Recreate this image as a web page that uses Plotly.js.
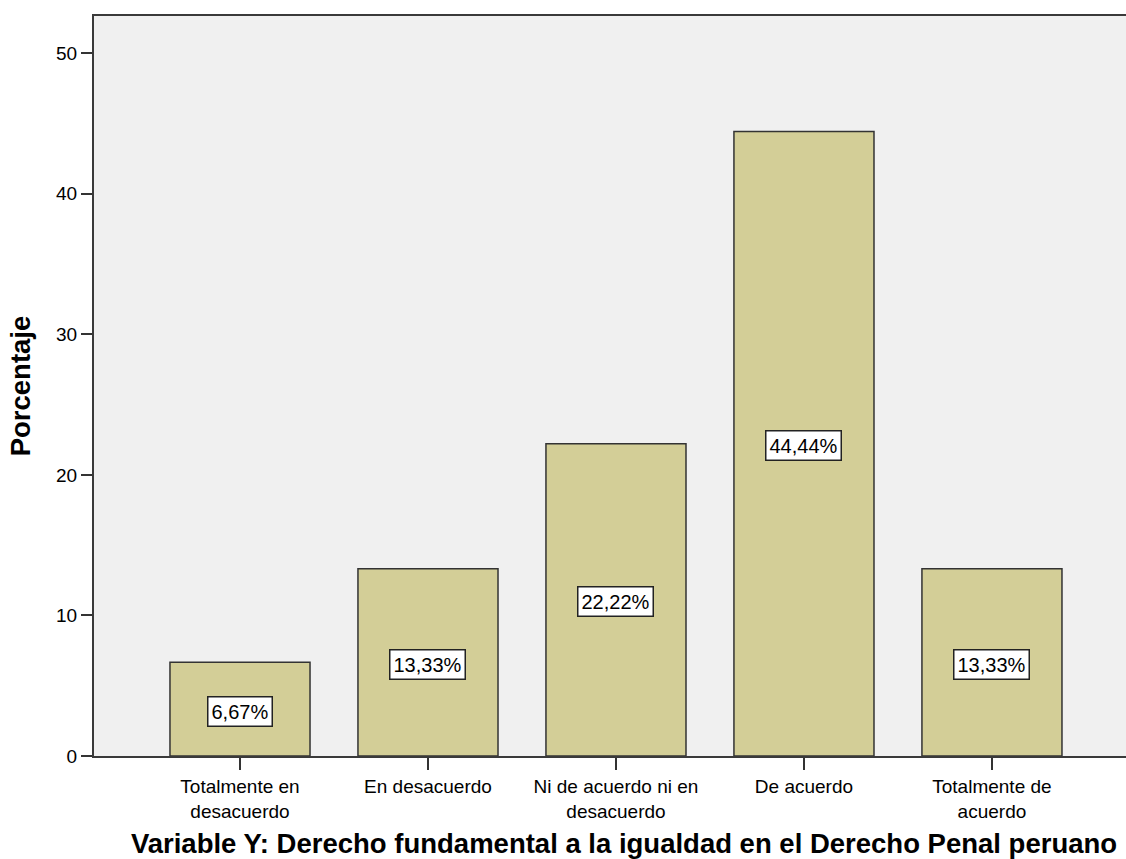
<!DOCTYPE html>
<html>
<head>
<meta charset="utf-8">
<script src="https://cdn.plot.ly/plotly-3.0.1.min.js"></script>
<style>
  html, body { margin: 0; padding: 0; overflow: hidden; background: #ffffff; }
  #chart { width: 1154px; height: 859px; }
</style>
</head>
<body>
<div id="chart"></div>
<script>
const categories = [
  "Totalmente en<br>desacuerdo",
  "En desacuerdo",
  "Ni de acuerdo ni en<br>desacuerdo",
  "De acuerdo",
  "Totalmente de<br>acuerdo"
];
const percentages = [6.67, 13.33, 22.22, 44.44, 13.33];
const yTickValues = [0, 10, 20, 30, 40, 50];
const xTitle = "Variable Y: Derecho fundamental a la igualdad en el Derecho Penal peruano";
const yTitle = "Porcentaje";

const labelText = percentages.map(v => v.toFixed(2).replace('.', ',') + '%');

const trace = {
  type: 'bar',
  x: categories,
  y: percentages,
  marker: { color: '#D3CE97', line: { color: '#333333', width: 1.5 } },
  hoverinfo: 'x+y'
};

const annotations = categories.map((c, i) => ({
  x: c,
  y: percentages[i] / 2,
  xref: 'x',
  yref: 'y',
  text: labelText[i],
  showarrow: false,
  font: { family: 'Liberation Sans, Arial, sans-serif', size: 20, color: '#000000' },
  bgcolor: '#ffffff',
  bordercolor: '#222222',
  borderwidth: 1.5,
  borderpad: 3,
  yshift: -2
}));

const layout = {
  width: 1154,
  height: 859,
  margin: { l: 94, r: 0, t: 16, b: 103 },
  paper_bgcolor: '#ffffff',
  plot_bgcolor: '#F0F0F0',
  bargap: 0.255,
  showlegend: false,
  font: { family: 'Liberation Sans, Arial, sans-serif', color: '#000000' },
  xaxis: {
    type: 'category',
    range: [-0.7766, 4.862],
    showline: true,
    linecolor: '#3a3a3a',
    linewidth: 2,
    mirror: true,
    ticks: 'outside',
    ticklen: 12,
    tickwidth: 2,
    tickcolor: '#333333',
    showgrid: false,
    zeroline: false,
    tickfont: { family: 'Liberation Sans, Arial, sans-serif', size: 19, color: '#000000' },
    title: {
      text: xTitle,
      font: { family: 'Liberation Sans, Arial, sans-serif', size: 27.5, color: '#000000', weight: 'bold' },
      standoff: 19
    }
  },
  yaxis: {
    range: [0, 52.65],
    tickvals: yTickValues,
    showline: true,
    linecolor: '#3a3a3a',
    linewidth: 2,
    mirror: true,
    ticks: 'outside',
    ticklen: 11,
    tickwidth: 2,
    tickcolor: '#333333',
    showgrid: false,
    zeroline: false,
    tickfont: { family: 'Liberation Sans, Arial, sans-serif', size: 19, color: '#000000' },
    title: {
      text: yTitle,
      font: { family: 'Liberation Sans, Arial, sans-serif', size: 27.5, color: '#000000', weight: 'bold' },
      standoff: 17
    }
  },
  annotations: annotations
};

Plotly.newPlot('chart', [trace], layout, { displayModeBar: false, staticPlot: true });
</script>
</body>
</html>
